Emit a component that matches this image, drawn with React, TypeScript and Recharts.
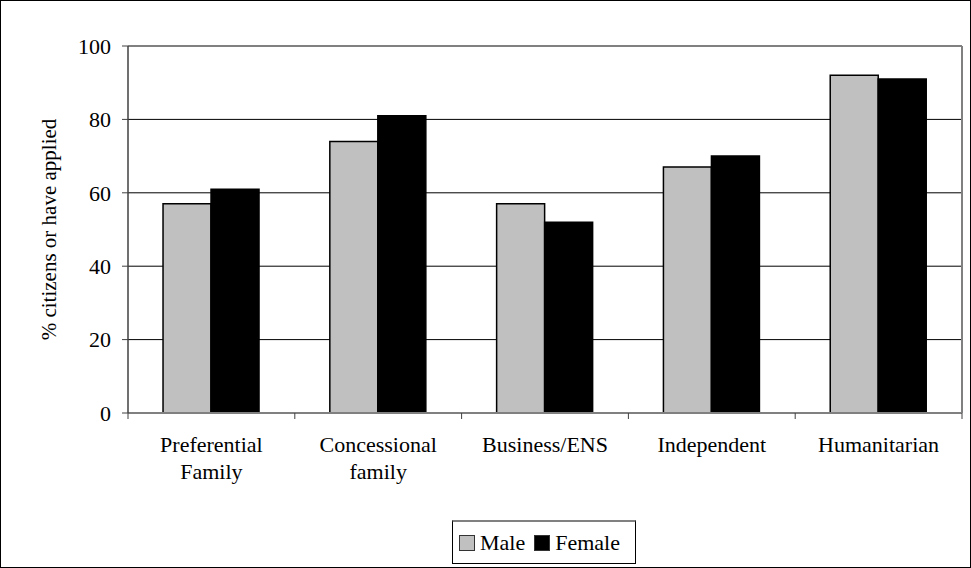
import React from "react";
import { BarChart, Bar, XAxis, YAxis, CartesianGrid, Legend, ReferenceLine } from "recharts";

const categories = ["Preferential\nFamily", "Concessional\nfamily", "Business/ENS", "Independent", "Humanitarian"];
const maleValues = [57, 74, 57, 67, 92];
const femaleValues = [61, 81, 52, 70, 91];
const yTicks = [0, 20, 40, 60, 80, 100];
const seriesNames = ["Male", "Female"];
const seriesColors = ["#C0C0C0", "#000000"];

const data = categories.map((c, i) => ({ name: c, Male: maleValues[i], Female: femaleValues[i] }));

const FONT = "Liberation Serif";

const CSS = `
#chartbox, #chartbox *, #chartbox text, #chartbox tspan, #chartbox span, #chartbox div {
  font-family: "Liberation Serif", "Times New Roman", Tinos, serif !important;
}
`;

const CategoryTick = (props: any) => {
  const { x, y, payload, index, visibleTicksCount } = props;
  const off = payload.offset || 0;
  const lines = String(payload.value).split("\n");
  const isLast = index === visibleTicksCount - 1;
  return (
    <g>
      <line x1={x - off} x2={x - off} y1={y - 6} y2={y} stroke="#404040" strokeWidth={1} />
      {isLast && <line x1={x + off} x2={x + off} y1={y - 6} y2={y} stroke="#404040" strokeWidth={1} />}
      <text x={x} y={y} textAnchor="middle" fontFamily={FONT} fontSize={22} fill="#000">
        {lines.map((l, i) => (
          <tspan key={i} x={x} y={y + 33 + i * 27}>
            {l}
          </tspan>
        ))}
      </text>
    </g>
  );
};

const YLabel = (props: any) => {
  const { viewBox } = props;
  const cx = viewBox.x + 49;
  const cy = viewBox.y + viewBox.height / 2;
  return (
    <text
      x={cx}
      y={cy}
      transform={`rotate(-90, ${cx}, ${cy})`}
      textAnchor="middle"
      dominantBaseline="central"
      fontFamily={FONT}
      fontSize={21}
      fill="#000"
    >
      % citizens or have applied
    </text>
  );
};

const YTick = (props: any) => {
  const { x, y, payload } = props;
  return (
    <text x={x} y={y} dy="0.355em" textAnchor="end" fontFamily={FONT} fontSize={22} fill="#000">
      {payload.value}
    </text>
  );
};

const LegendContent = () => (
  <div
    style={{
      boxSizing: "border-box",
      width: 184,
      height: 44,
      border: "1px solid #000",
      borderTop: "2px solid #808080",
      background: "#fff",
      display: "flex",
      alignItems: "center",
      paddingLeft: 6,
      fontFamily: FONT,
      fontSize: 22,
      color: "#000",
    }}
  >
    {seriesNames.map((n, i) => (
      <div key={n} style={{ display: "flex", alignItems: "center", marginRight: i === 0 ? 9 : 0 }}>
        <div
          style={{
            boxSizing: "border-box",
            width: 16,
            height: 16,
            background: seriesColors[i],
            border: "1.5px solid #333",
            marginRight: 5,
          }}
        />
        <span>{n}</span>
      </div>
    ))}
  </div>
);

export default function App() {
  return (
    <div id="chartbox" style={{ position: "absolute", left: 0, top: 0, width: 971, height: 568, background: "#fff", fontFamily: FONT }}>
      <style>{CSS}</style>
      <BarChart
        width={971}
        height={568}
        data={data}
        margin={{ top: 46, right: 8, bottom: 95, left: 0 }}
        barCategoryGap="21%"
        barGap={0}
      >
        <CartesianGrid vertical={false} stroke="#000" strokeWidth={1} />
        <XAxis
          dataKey="name"
          height={60}
          tickLine={false}
          tickSize={6}
          tickMargin={0}
          axisLine={{ stroke: "#808080", strokeWidth: 2 }}
          tick={<CategoryTick />}
          interval={0}
        />
        <YAxis
          width={128}
          domain={[0, 100]}
          ticks={yTicks}
          interval={0}
          tickSize={6}
          tickMargin={11}
          axisLine={{ stroke: "#404040", strokeWidth: 1.5 }}
          tickLine={{ stroke: "#404040" }}
          tick={<YTick />}
          label={<YLabel />}
        />
        <YAxis
          yAxisId="right"
          orientation="right"
          width={1}
          domain={[0, 100]}
          tick={false}
          tickLine={false}
          axisLine={{ stroke: "#808080", strokeWidth: 2 }}
        />
        <ReferenceLine y={100} stroke="#808080" strokeWidth={2} />
        <Legend
          layout="horizontal"
          verticalAlign="middle"
          wrapperStyle={{ left: 452, top: 520, width: 184, height: 44 }}
          content={<LegendContent />}
        />
        <Bar dataKey="Male" fill={seriesColors[0]} stroke="#000" strokeWidth={1.5} isAnimationActive={false} />
        <Bar dataKey="Female" fill={seriesColors[1]} stroke="#000" strokeWidth={1.5} isAnimationActive={false} />
      </BarChart>
      <div
        style={{
          position: "absolute",
          left: 0,
          top: 0,
          width: 971,
          height: 568,
          boxSizing: "border-box",
          border: "1px solid #000",
          pointerEvents: "none",
        }}
      />
    </div>
  );
}
